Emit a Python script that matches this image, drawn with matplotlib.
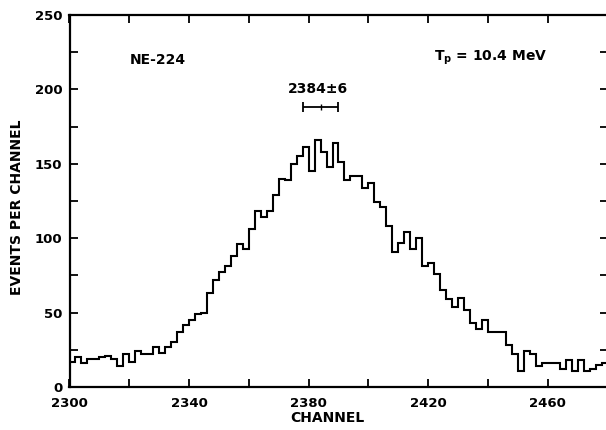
import numpy as np
import matplotlib
matplotlib.use("Agg")
import matplotlib.pyplot as plt
from matplotlib.ticker import MultipleLocator

# spectrum, 2-channel bins starting at channel 2300
first_channel = 2300
bin_width = 2
counts = [17, 20, 16, 19, 19, 20, 21, 19, 14, 22,
          17, 24, 22, 22, 27, 23, 27, 30, 37, 42,
          45, 49, 50, 63, 72, 77, 81, 88, 96, 93,
          106, 118, 114, 118, 129, 140, 139, 150, 155, 161,
          145, 166, 158, 148, 164, 151, 139, 142, 142, 134,
          137, 124, 121, 108, 91, 97, 104, 93, 100, 81,
          83, 76, 65, 59, 54, 60, 52, 43, 39, 45,
          37, 37, 37, 28, 22, 11, 24, 22, 14, 16,
          16, 16, 12, 18, 11, 18, 11, 12, 15, 16]

peak_channel = 2384
peak_err = 6
peak_label = "2384±6"
target_label = "NE-224"
energy_label = r"T$_\mathbf{p}$ = 10.4 MeV"

edges = first_channel + bin_width * np.arange(len(counts) + 1)

plt.rcParams['font.family'] = ['DejaVu Sans']
plt.rcParams['font.weight'] = 'bold'

fig = plt.figure(figsize=(6.06, 4.30), dpi=100)
ax = fig.add_axes([69.5 / 606, 43 / 430, (607.5 - 69.5) / 606, 372 / 430])

ax.stairs(counts, edges, baseline=None, color='black', linewidth=1.5)

# centroid with its uncertainty
ax.errorbar(peak_channel, 188, xerr=peak_err, fmt='|', color='black',
            markersize=5, capsize=3.6, elinewidth=1.3, capthick=1.3)
ax.text(peak_channel - 1, 200, peak_label, ha='center', va='center',
        fontsize=10, fontweight='bold')
ax.text(2320, 220, target_label, ha='left', va='center',
        fontsize=10, fontweight='bold')
ax.text(2422, 221, energy_label, ha='left', va='center',
        fontsize=10, fontweight='bold')

ax.set_xlim(2300, 2480)
ax.set_ylim(0, 250)
ax.xaxis.set_major_locator(MultipleLocator(40, offset=20))
ax.xaxis.set_minor_locator(MultipleLocator(20))
ax.yaxis.set_major_locator(MultipleLocator(50))
ax.yaxis.set_minor_locator(MultipleLocator(25))
ax.tick_params(which='both', direction='in', top=True, right=True,
               length=6, width=1.3, labelsize=9.5)
ax.tick_params(axis='x', pad=7)
ax.tick_params(axis='y', pad=5)
for lab in ax.get_xticklabels() + ax.get_yticklabels():
    lab.set_fontweight('bold')
for sp in ax.spines.values():
    sp.set_linewidth(1.6)

ax.set_xlabel("CHANNEL", fontsize=10, fontweight='bold')
ax.set_ylabel("EVENTS PER CHANNEL", fontsize=10, fontweight='bold')
ax.xaxis.set_label_coords((327 - 69.5) / 538, -24 / 372)
ax.yaxis.set_label_coords(-45 / 538, (387 - 207) / 372)

fig.savefig("out.png", dpi=100)
